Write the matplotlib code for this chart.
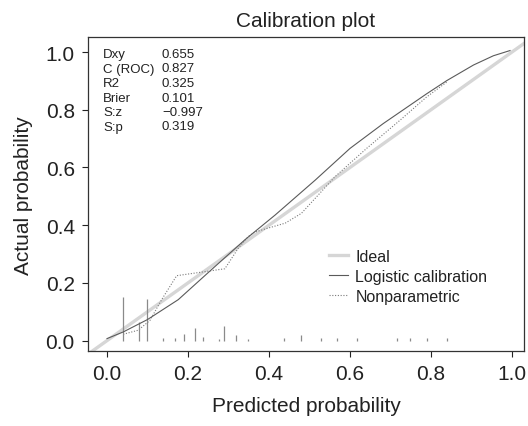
import matplotlib
matplotlib.use("Agg")
import matplotlib.pyplot as plt

plt.rcParams['font.family'] = ['Liberation Sans', 'DejaVu Sans']

# logistic calibration curve
logit_x = [0.0, 0.04, 0.10, 0.176, 0.258, 0.341, 0.415, 0.514, 0.60, 0.682, 0.789, 0.839, 0.905, 0.954, 0.995]
logit_y = [0.007, 0.03, 0.073, 0.142, 0.246, 0.35, 0.435, 0.556, 0.666, 0.752, 0.855, 0.901, 0.955, 0.987, 1.005]

# nonparametric (loess) curve
np_x = [0.04, 0.077, 0.106, 0.135, 0.172, 0.217, 0.291, 0.324, 0.349, 0.365, 0.398, 0.44, 0.48, 0.514, 0.563, 0.641, 0.723, 0.789, 0.841]
np_y = [0.022, 0.036, 0.07, 0.142, 0.225, 0.234, 0.249, 0.32, 0.361, 0.376, 0.39, 0.407, 0.441, 0.493, 0.568, 0.666, 0.763, 0.844, 0.898]

# rug of predicted probabilities (position, spike height)
rug_x = [0.039, 0.079, 0.10, 0.139, 0.168, 0.189, 0.217, 0.238, 0.277, 0.289, 0.318, 0.349,
         0.438, 0.479, 0.528, 0.567, 0.618, 0.717, 0.748, 0.789, 0.839]
rug_h = [0.152, 0.066, 0.144, 0.008, 0.008, 0.023, 0.043, 0.012, 0.006, 0.05, 0.02, 0.006,
         0.008, 0.02, 0.008, 0.008, 0.008, 0.008, 0.008, 0.008, 0.008]

stat_names = ["Dxy", "C (ROC)", "R2", "Brier", "S:z", "S:p"]
stat_values = ["0.655", "0.827", "0.325", "0.101", "\u22120.997", "0.319"]

fig = plt.figure(figsize=(5.28, 4.27), dpi=100)
ax = fig.add_axes([88 / 528, 1 - 352.3 / 427, 436 / 528, 314.3 / 427])

ax.axline((0, 0), (1, 1), color="#d6d6d6", lw=2.4, label="Ideal", zorder=1)
ax.plot(logit_x, logit_y, color="#5a5a5a", lw=0.8, label="Logistic calibration", zorder=3)
ax.plot(np_x, np_y, color="#7a7a7a", lw=0.8, ls=(0, (1, 1.5)), label="Nonparametric", zorder=2)
ax.vlines(rug_x, 0, rug_h, color="#8a8a8a", lw=0.9, zorder=2)

ax.set_xlim(-0.0469, 1.0296)
ax.set_ylim(-0.037, 1.052)
ax.set_xticks([0, 0.2, 0.4, 0.6, 0.8, 1.0])
ax.set_yticks([0, 0.2, 0.4, 0.6, 0.8, 1.0])
ax.tick_params(labelsize=15, length=4.5, width=0.8, colors="#222222", pad=5)
for s in ax.spines.values():
    s.set_color("#333333")
    s.set_linewidth(0.9)

ax.set_title("Calibration plot", fontsize=15, color="#222222", pad=8)
ax.set_xlabel("Predicted probability", fontsize=15, color="#222222", labelpad=9)
ax.set_ylabel("Actual probability", fontsize=15, color="#222222", labelpad=9)

for i, (n, v) in enumerate(zip(stat_names, stat_values)):
    yy = 1 - (55 + i * 14.5) / 427
    fig.text(103 / 528, yy, n, fontsize=9.5, color="#222222", va="center")
    fig.text(162 / 528, yy, v, fontsize=9.5, color="#222222", va="center")

leg = ax.legend(loc="upper left", bbox_to_anchor=(329 / 528, 1 - 250 / 427),
                bbox_transform=fig.transFigure, frameon=False, fontsize=11.5,
                handlelength=1.2, handletextpad=0.45, labelspacing=0.3, borderpad=0,
                borderaxespad=0)
for t in leg.get_texts():
    t.set_color("#222222")

fig.savefig("out.png", dpi=100)
